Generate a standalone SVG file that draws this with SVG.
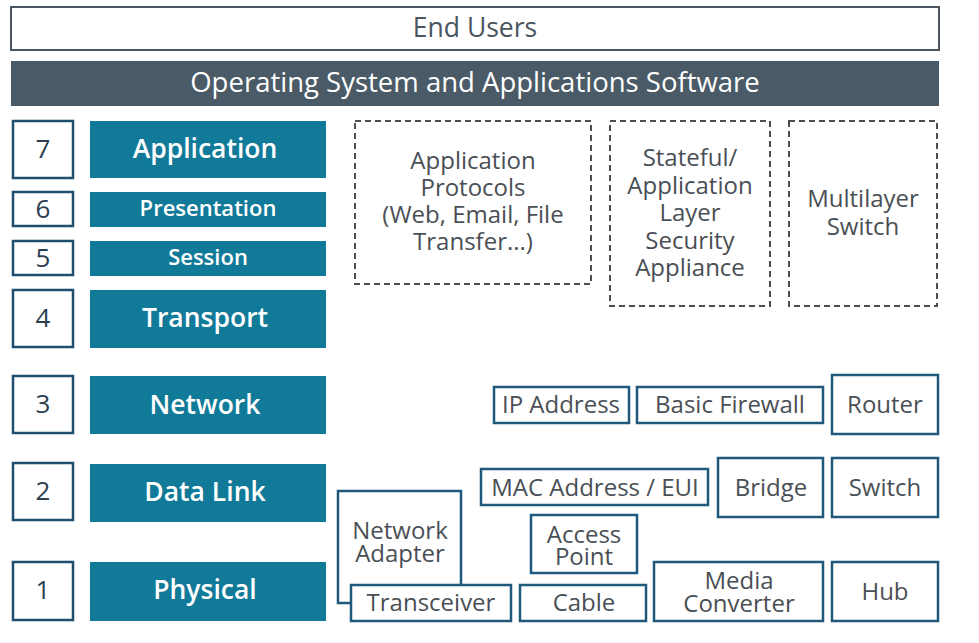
<svg xmlns="http://www.w3.org/2000/svg" width="979" height="643" viewBox="0 0 979 643">
<style>
text{font-family:"Open Sans","Noto Sans","Liberation Sans",sans-serif;text-anchor:middle;dominant-baseline:central}
.num{fill:#fff;stroke:#1f4e6e;stroke-width:2.5}
.numt{fill:#2c3e50;font-size:26px}
.layer{fill:#127a99}
.lt{fill:#fff;font-size:26.5px;font-weight:600}
.lts{fill:#fff;font-size:22px;font-weight:600}
.dash{fill:#fff;stroke:#4d4d4d;stroke-width:2;stroke-dasharray:6 4}
.dev{fill:#fff;stroke:#1f5a7a;stroke-width:2.5}
.dt{fill:#4a4f55;font-size:24px}
</style>
<rect width="979" height="643" fill="#fff"/>
<g id="end-users"><rect x="11" y="7" width="928" height="43" fill="#fff" stroke="#4a5560" stroke-width="2"/><text x="475" y="27" fill="#4a5560" font-size="26.5">End Users</text></g>
<g id="os"><rect x="11" y="61" width="928" height="45" fill="#4a5a66"/><text x="475" y="81" fill="#fff" font-size="27.5">Operating System and Applications Software</text></g>

<g id="n7"><rect class="num" x="13" y="121" width="60" height="57"/><text class="numt" x="43" y="148">7</text></g>
<g id="n6"><rect class="num" x="13" y="192" width="60" height="34"/><text class="numt" x="43" y="208" font-size="23">6</text></g>
<g id="n5"><rect class="num" x="13" y="241" width="60" height="34"/><text class="numt" x="43" y="257" font-size="23">5</text></g>
<g id="n4"><rect class="num" x="13" y="290" width="60" height="57"/><text class="numt" x="43" y="317">4</text></g>
<g id="n3"><rect class="num" x="13" y="376" width="60" height="57"/><text class="numt" x="43" y="403">3</text></g>
<g id="n2"><rect class="num" x="13" y="463" width="60" height="57"/><text class="numt" x="43" y="490">2</text></g>
<g id="n1"><rect class="num" x="13" y="562" width="60" height="58"/><text class="numt" x="43" y="589">1</text></g>

<g id="application"><rect class="layer" x="90" y="121" width="236" height="57"/><text class="lt" x="205" y="148">Application</text></g>
<g id="presentation"><rect class="layer" x="90" y="192" width="236" height="35"/><text class="lts" x="208" y="207">Presentation</text></g>
<g id="session"><rect class="layer" x="90" y="241" width="236" height="35"/><text class="lts" x="208" y="256">Session</text></g>
<g id="transport"><rect class="layer" x="90" y="290" width="236" height="58"/><text class="lt" x="205" y="317">Transport</text></g>
<g id="network"><rect class="layer" x="90" y="376" width="236" height="58"/><text class="lt" x="205" y="404">Network</text></g>
<g id="datalink"><rect class="layer" x="90" y="464" width="236" height="58"/><text class="lt" x="205" y="491">Data Link</text></g>
<g id="physical"><rect class="layer" x="90" y="562" width="236" height="59"/><text class="lt" x="205" y="589">Physical</text></g>

<g id="app-protocols"><rect class="dash" x="355" y="121" width="236" height="163"/>
<text class="dt" x="473" y="159">Application</text><text class="dt" x="473" y="186">Protocols</text><text class="dt" x="473" y="213">(Web, Email, File</text><text class="dt" x="473" y="240">Transfer...)</text></g>
<g id="stateful"><rect class="dash" x="610" y="121" width="160" height="185"/>
<text class="dt" x="690" y="156">Stateful/</text><text class="dt" x="690" y="184">Application</text><text class="dt" x="690" y="211">Layer</text><text class="dt" x="690" y="239">Security</text><text class="dt" x="690" y="266">Appliance</text></g>
<g id="multilayer"><rect class="dash" x="789" y="121" width="148" height="185"/>
<text class="dt" x="863" y="197">Multilayer</text><text class="dt" x="863" y="225">Switch</text></g>

<g id="ip-address"><rect class="dev" x="494" y="387" width="135" height="36"/><text class="dt" x="561" y="403">IP Address</text></g>
<g id="basic-firewall"><rect class="dev" x="637" y="387" width="186" height="36"/><text class="dt" x="730" y="403">Basic Firewall</text></g>
<g id="router"><rect class="dev" x="832" y="375" width="106" height="59"/><text class="dt" x="885" y="403">Router</text></g>
<g id="mac"><rect class="dev" x="481" y="469" width="227" height="36"/><text class="dt" x="595" y="486">MAC Address / EUI</text></g>
<g id="bridge"><rect class="dev" x="718" y="458" width="105" height="59"/><text class="dt" x="771" y="486">Bridge</text></g>
<g id="switch"><rect class="dev" x="832" y="458" width="106" height="59"/><text class="dt" x="885" y="486">Switch</text></g>
<g id="network-adapter"><rect class="dev" x="338" y="491" width="123" height="112"/><text class="dt" x="400" y="529">Network</text><text class="dt" x="400" y="552">Adapter</text></g>
<g id="transceiver"><rect class="dev" x="351" y="585" width="160" height="36"/><text class="dt" x="431" y="601">Transceiver</text></g>
<g id="access-point"><rect class="dev" x="531" y="515" width="106" height="58"/><text class="dt" x="584" y="533">Access</text><text class="dt" x="584" y="555">Point</text></g>
<g id="cable"><rect class="dev" x="520" y="585" width="126" height="36"/><text class="dt" x="584" y="601">Cable</text></g>
<g id="media-converter"><rect class="dev" x="654" y="562" width="169" height="59"/><text class="dt" x="739" y="579">Media</text><text class="dt" x="739" y="602">Converter</text></g>
<g id="hub"><rect class="dev" x="832" y="562" width="106" height="59"/><text class="dt" x="885" y="590">Hub</text></g>
<g id="connectors"></g>
</svg>
